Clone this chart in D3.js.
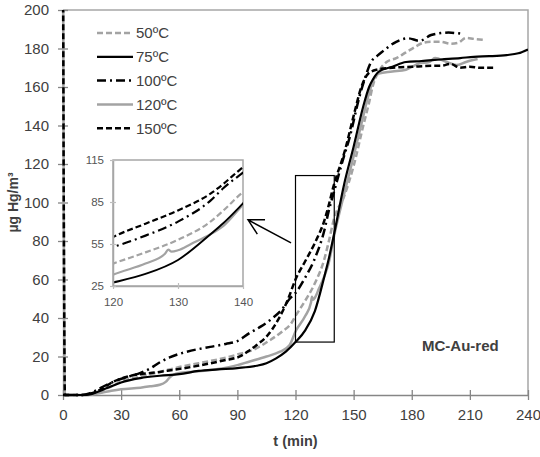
<!DOCTYPE html>
<html><head><meta charset="utf-8">
<script src="https://cdn.jsdelivr.net/npm/d3@7"></script>
<style>body{margin:0;background:#fff} svg{display:block;font-family:Arial,"Liberation Sans",sans-serif}</style>
</head><body><svg id="c" width="540" height="457"></svg>
<script>
// ---------- data ----------
const labels = ["50ºC", "75ºC", "100ºC", "120ºC", "150ºC"];
const t50  = [0,1,10,15,20,25,30,40,50,60,70,80,90,98,107,113,118,120,125,130,135,137,140,145,150,155,158,160,163,167,172,177,182,186,190,195,200,204,208,212,217];
const v50  = [230,0,0,0.5,2,4.5,7,9.5,12,14.5,16.5,18.5,21,23.4,28.6,32.9,37.5,41,49,58,71,79,92,103,119,140,152,161,168,173,175,178,181,183,183.5,183.5,182.5,183,185.5,185,184.5];
const t75  = [0,1,12,15,20,25,30,40,50,60,70,80,90,100,105,110,115,120,125,130,135,137,140,145,150,155,158,160,163,170,177,185,195,205,212,220,229,235,240];
const v75  = [0,0,0,0.5,2.5,4.5,6.5,8.8,10,10.8,12.5,13.3,14,15.2,16.5,19,22.5,27.5,33.6,43.6,62,70,84,109,129,150,160,164,168,170.5,173,173.5,174.3,175,175.7,176,176.6,177.5,179.5];
const t100 = [0,1,9,14,20,24,31,40,45,50,55,64,76,84,90,96,102,108,113,117,120,125,130,135,137,140,145,148,153,156,159,162,165,172,178,184,190,195,199,203,207];
const v100 = [0,0,0,1,4,6,8.7,11.5,13.8,17,19.5,22.5,25,26.5,28,32,35.5,39.8,44.5,50,53,61,71,86,95,106,124,134,155,165,173,176,178.5,183.5,185.3,184,187,188,188.3,188,187.5];
const t120 = [0,1,13,15,20,25,30,40,45,50,53,55,57,60,67,80,90,96,105,112,117,120,125,128,128.5,129,130,132,135,137,140,145,150,155,158,160,163,170,177,184,189,192,198,203,208,214];
const v120 = [230,0,0,0.3,1.2,2.2,3,3.8,4.5,5.3,6.8,9,10.5,11.5,12.1,13.5,15.5,17.3,20,22.5,26,33,41,48,51,49.5,50.5,55,62,68,83,104,124,145,157,163,167,168,169,172.3,173,175,173,171.4,173,174.5];
const t150 = [0,1,10,12,19,26,33,50,67,84,91,96,100,105,111,116,120,125,130,135,137,139.5,145.5,150,154,157.6,162,170,180,190,195,200,205,210,215,222];
const v150 = [230,0,0,0.2,2.6,6.9,9.5,12,14.7,18.2,19.9,23,26,30.3,39,49.4,60,69.5,79,91,98,108,127,145,160,167,169,170,170.5,171,171,172,170,170.5,170,170];

const xTicks = [0,30,60,90,120,150,180,210,240];
const yTicks = [0,20,40,60,80,100,120,140,160,180,200];
const insetXTicks = [120,130,140];
const insetYTicks = [25,55,85,115];
const zoomBox = {t0:120, t1:140, v0:27.5, v1:114};
const arrowTail = [117.7, 79], arrowTip = [95.5, 91];
const annotation = "MC-Au-red";

// ---------- styles ----------
const styles = {
  "50ºC":  {color:"#a3a3a3", dash:"6,3", width:2.5},
  "75ºC":  {color:"#000",    dash:null,  width:2.2},
  "100ºC": {color:"#000",    dash:"9,4,2,4", width:2.5},
  "120ºC": {color:"#a3a3a3", dash:null,  width:2.5},
  "150ºC": {color:"#000",    dash:"6,3", width:2.5}
};
const series = [
  {label:"50ºC", t:t50, v:v50},
  {label:"75ºC", t:t75, v:v75},
  {label:"100ºC", t:t100, v:v100},
  {label:"120ºC", t:t120, v:v120},
  {label:"150ºC", t:t150, v:v150}
].map(s => ({...s, pts: s.t.map((t,i)=>({t, v:s.v[i]}))}));
const drawOrder = ["120ºC","50ºC","75ºC","100ºC","150ºC"];

const svg = d3.select("#c");
const W = 540, H = 457;
const m = {l:63, r:12, t:10, b:62};
const x = d3.scaleLinear().domain([0,240]).range([m.l, W-m.r]);
const y = d3.scaleLinear().domain([0,200]).range([H-m.b, m.t]);
const txt = "#404040";

// frame (top & right)
svg.append("path").attr("d", `M${x(0)},${y(200)}H${x(240)}V${y(0)}`)
  .attr("fill","none").attr("stroke","#a6a6a6").attr("stroke-width",1.5);

// axes
const xAxis = svg.append("g").attr("transform",`translate(0,${y(0)})`)
  .call(d3.axisBottom(x).tickValues(xTicks).tickSizeInner(5).tickSizeOuter(0).tickPadding(9));
xAxis.selectAll(".tick line").attr("y1",-5).attr("y2",5);
const yAxis = svg.append("g").attr("transform",`translate(${x(0)},0)`)
  .call(d3.axisLeft(y).tickValues(yTicks).tickSizeInner(5).tickSizeOuter(0).tickPadding(9));
yAxis.selectAll(".tick line").attr("x1",-5).attr("x2",5);
[xAxis,yAxis].forEach(a=>{
  a.select(".domain").attr("stroke","#868686").attr("stroke-width",1.3);
  a.selectAll(".tick line").attr("stroke","#868686").attr("stroke-width",1.3);
  a.selectAll("text").attr("font-size",15).attr("fill",txt).attr("font-family","Arial, 'Liberation Sans', sans-serif");
});

// clip
svg.append("clipPath").attr("id","clipMain").append("rect")
  .attr("x", x(0)-3).attr("y", y(200)).attr("width", x(240)-x(0)+3).attr("height", y(0)-y(200)+3);

const line = d3.line().x(d=>x(d.t)).y(d=>y(d.v)).curve(d3.curveMonotoneX);
const gMain = svg.append("g").attr("clip-path","url(#clipMain)");
drawOrder.forEach(lab=>{
  const s = series.find(d=>d.label===lab), st = styles[lab];
  gMain.append("path").attr("d", line(s.pts)).attr("fill","none")
    .attr("stroke", st.color).attr("stroke-width", st.width)
    .attr("stroke-dasharray", st.dash).attr("stroke-linejoin","round");
});

// zoom rectangle
svg.append("rect").attr("x", x(zoomBox.t0)).attr("y", y(zoomBox.v1))
  .attr("width", x(zoomBox.t1)-x(zoomBox.t0)).attr("height", y(zoomBox.v0)-y(zoomBox.v1))
  .attr("fill","none").attr("stroke","#000").attr("stroke-width",1.2);

// arrow
const ax0 = x(arrowTail[0]), ay0 = y(arrowTail[1]), ax1 = x(arrowTip[0]), ay1 = y(arrowTip[1]);
const ang = Math.atan2(ay0-ay1, ax0-ax1), L = 17, spread = 0.5;
svg.append("path")
  .attr("d", `M${ax0},${ay0}L${ax1},${ay1}M${ax1+L*Math.cos(ang-spread)},${ay1+L*Math.sin(ang-spread)}L${ax1},${ay1}L${ax1+L*Math.cos(ang+spread)},${ay1+L*Math.sin(ang+spread)}`)
  .attr("fill","none").attr("stroke","#000").attr("stroke-width",1.5);

// inset
const ib = {l:113, r:243, t:160, b:286};
const xi = d3.scaleLinear().domain([120,140]).range([ib.l, ib.r]);
const yi = d3.scaleLinear().domain([25,115]).range([ib.b, ib.t]);
const gi = svg.append("g");
gi.append("rect").attr("x",ib.l).attr("y",ib.t).attr("width",ib.r-ib.l).attr("height",ib.b-ib.t)
  .attr("fill","#fff").attr("stroke","#a6a6a6").attr("stroke-width",1.5);
svg.append("clipPath").attr("id","clipInset").append("rect")
  .attr("x",ib.l).attr("y",ib.t).attr("width",ib.r-ib.l).attr("height",ib.b-ib.t);
const lineI = d3.line().x(d=>xi(d.t)).y(d=>yi(d.v)).curve(d3.curveMonotoneX);
const gil = gi.append("g").attr("clip-path","url(#clipInset)");
drawOrder.forEach(lab=>{
  const s = series.find(d=>d.label===lab), st = styles[lab];
  const pts = s.pts.filter(d=>d.t>=110 && d.t<=150);
  gil.append("path").attr("d", lineI(pts)).attr("fill","none")
    .attr("stroke", st.color).attr("stroke-width", st.width-0.3)
    .attr("stroke-dasharray", st.dash).attr("stroke-linejoin","round");
});
const xiAxis = gi.append("g").attr("transform",`translate(0,${ib.b})`)
  .call(d3.axisBottom(xi).tickValues(insetXTicks).tickSizeInner(3).tickSizeOuter(0).tickPadding(9));
xiAxis.selectAll(".tick line").attr("y1",-3).attr("y2",3);
const yiAxis = gi.append("g").attr("transform",`translate(${ib.l},0)`)
  .call(d3.axisLeft(yi).tickValues(insetYTicks).tickSizeInner(3).tickSizeOuter(0).tickPadding(6));
yiAxis.selectAll(".tick line").attr("x1",-3).attr("x2",3);
[xiAxis,yiAxis].forEach(a=>{
  a.select(".domain").attr("stroke","#a6a6a6").attr("stroke-width",1.5);
  a.selectAll(".tick line").attr("stroke","#bdbdbd").attr("stroke-width",1.2);
  a.selectAll("text").attr("font-size",11.5).attr("fill","#555").attr("font-family","Arial, 'Liberation Sans', sans-serif");
});

// legend
const lg = svg.append("g");
labels.forEach((lab,i)=>{
  const st = styles[lab], cy = 33 + i*23.8;
  lg.append("line").attr("x1",97).attr("x2",133).attr("y1",cy).attr("y2",cy)
    .attr("stroke",st.color).attr("stroke-width",st.width).attr("stroke-dasharray",st.dash);
  lg.append("text").attr("x",136).attr("y",cy+5.3).attr("font-size",15).attr("fill",txt).text(lab);
});

// titles
svg.append("text").attr("x",(x(0)+x(240))/2).attr("y",446).attr("text-anchor","middle")
  .attr("font-size",14.5).attr("font-weight","bold").attr("fill",txt).text("t (min)");
svg.append("text").attr("transform",`translate(18,${(y(0)+y(200))/2}) rotate(-90)`)
  .attr("text-anchor","middle").attr("font-size",14).attr("font-weight","bold").attr("fill",txt)
  .text("µg Hg/m³");
svg.append("text").attr("x",422).attr("y",351).attr("font-size",15).attr("font-weight","bold")
  .attr("fill",txt).text(annotation);
</script></body></html>
